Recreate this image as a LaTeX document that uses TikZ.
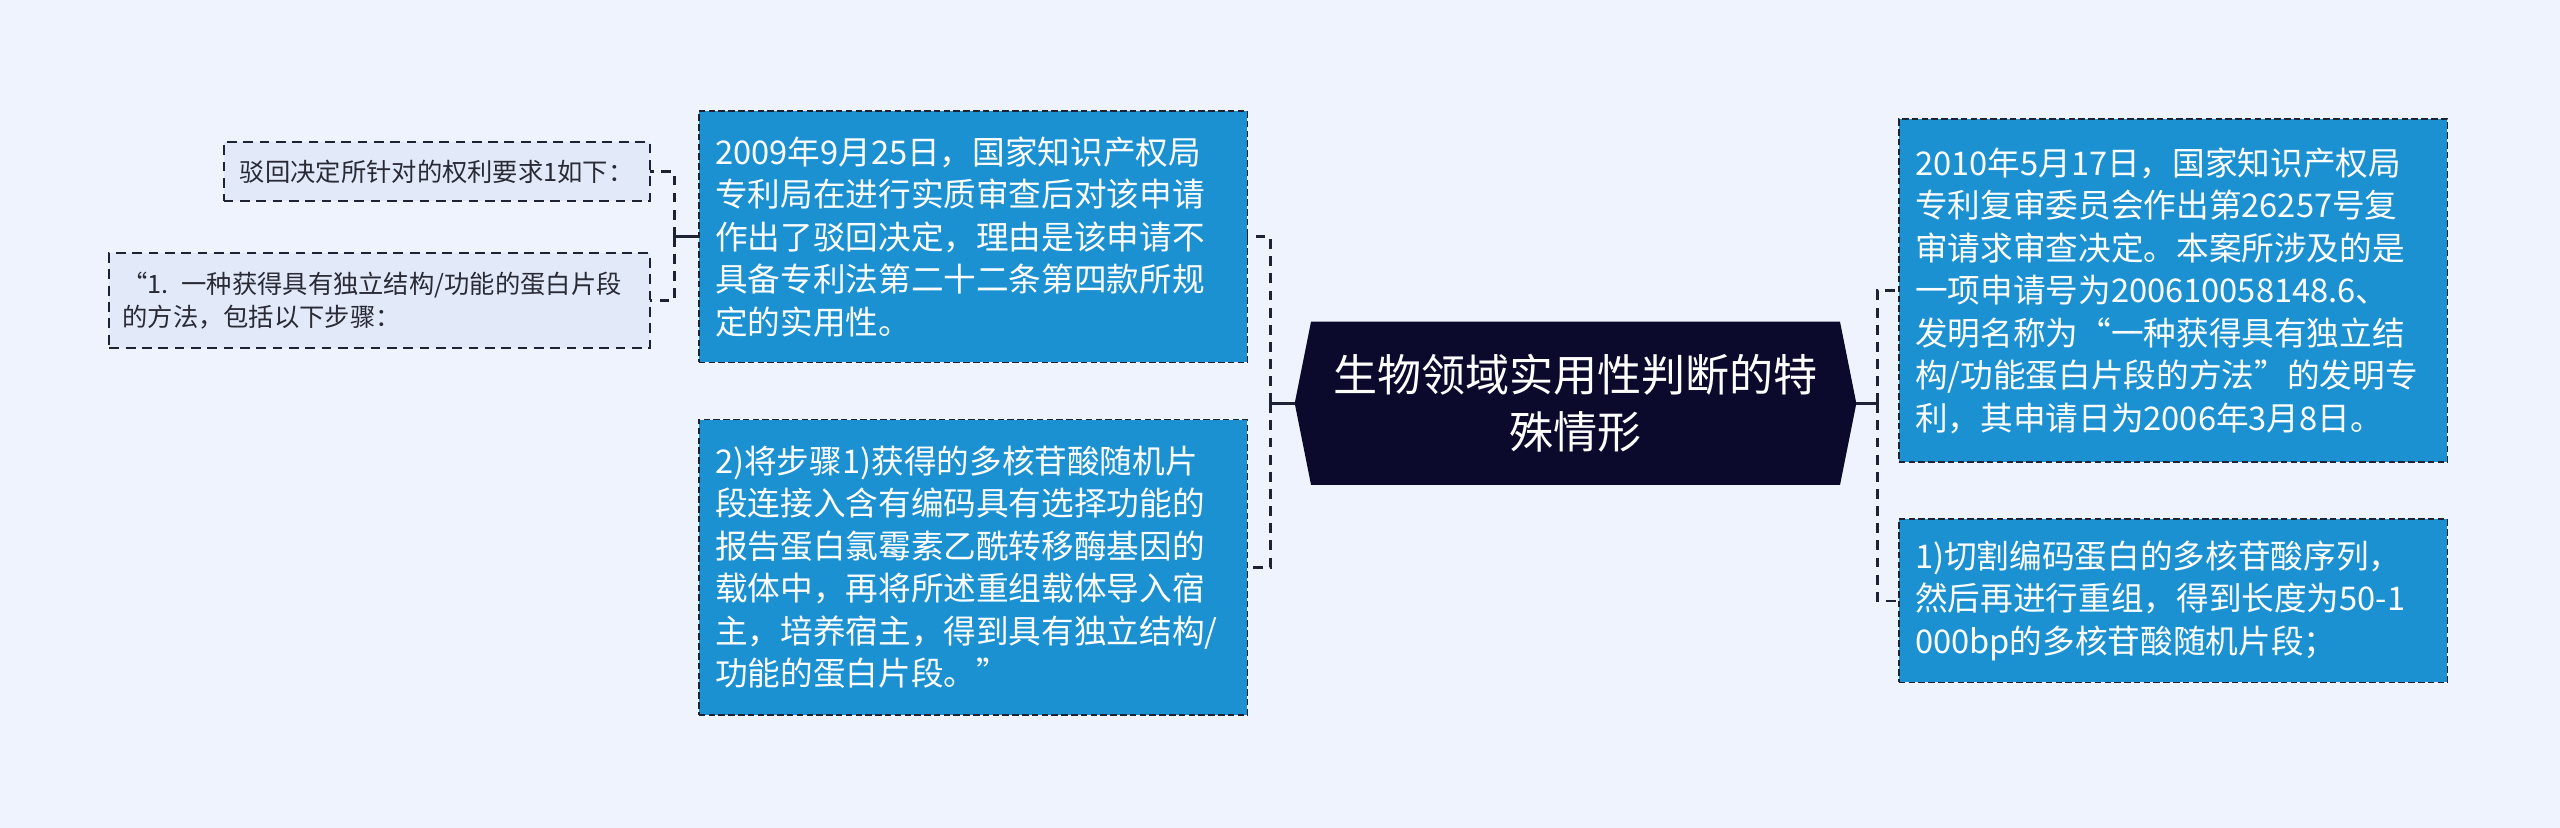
\documentclass[tikz,border=0pt]{standalone}
\usepackage{fontspec}
\newfontfamily\cjk{Noto Sans CJK SC}
\definecolor{bgc}{HTML}{EEF3FE}
\definecolor{boxblue}{HTML}{1C91D2}
\definecolor{navy}{HTML}{0B0A2C}
\definecolor{smallfill}{HTML}{E2EAFA}
\definecolor{bordc}{HTML}{1E2235}
\definecolor{textdark}{HTML}{2A2A35}
\begin{document}
\begin{tikzpicture}[x=1pt,y=-1pt,
  bluebox/.style={draw=bordc, line width=1pt, dash pattern=on 4pt off 2pt, fill=boxblue,
    text=white, font=\cjk\fontsize{20}{26}\selectfont, align=left, text width=316pt,
    inner xsep=10pt, inner ysep=0pt, outer sep=0pt, anchor=north west},
  smallbox/.style={draw=bordc, line width=1.2pt, dash pattern=on 6pt off 4pt, fill=smallfill,
    text=textdark, font=\cjk\fontsize{15.5}{20.5}\selectfont, inner ysep=0pt, outer sep=0pt,
    anchor=north west},
  hexbox/.style={minimum width=344pt, minimum height=100pt, inner sep=0pt, outer sep=0pt},
  centretext/.style={text=white, font=\cjk\fontsize{27}{35}\selectfont, align=center, inner sep=0pt},
  conn/.style={draw=bordc, line width=1.6pt, dash pattern=on 6pt off 4.5pt},
  stub/.style={draw=bordc, line width=1.6pt}
]
\useasboundingbox (0,0) rectangle (1568,507);
\fill[bgc] (0,0) rectangle (1568,507);

% centre
\node[hexbox] (c) at (965,247) {};
\fill[navy] ([xshift=10pt]c.north west) -- ([xshift=-10pt]c.north east) -- (c.east)
  -- ([xshift=-10pt]c.south east) -- ([xshift=10pt]c.south west) -- (c.west) -- cycle;
\node[centretext] (ct) at (c) {生物领域实用性判断的特\\殊情形};

% left blue boxes
\node[bluebox, minimum height=154pt] (b1) at (428,68)
  {2009年9月25日，国家知识产权局\\专利局在进行实质审查后对该申请\\作出了驳回决定，理由是该申请不\\具备专利法第二十二条第四款所规\\定的实用性。};
\node[bluebox, minimum height=181pt] (b2) at (428,257)
  {2)将步骤1)获得的多核苷酸随机片\\段连接入含有编码具有选择功能的\\报告蛋白氯霉素乙酰转移酶基因的\\载体中，再将所述重组载体导入宿\\主，培养宿主，得到具有独立结构/\\功能的蛋白片段。”};

% right blue boxes
\node[bluebox, minimum height=210pt] (r1) at (1163,73)
  {2010年5月17日，国家知识产权局\\专利复审委员会作出第26257号复\\审请求审查决定。本案所涉及的是\\一项申请号为200610058148.6、\\发明名称为“一种获得具有独立结\\构/功能蛋白片段的方法”的发明专\\利，其申请日为2006年3月8日。};
\node[bluebox, minimum height=100pt] (r2) at (1163,318)
  {1)切割编码蛋白的多核苷酸序列，\\然后再进行重组，得到长度为50-1\\000bp的多核苷酸随机片段；};

% small boxes
\node[smallbox, minimum width=261pt, minimum height=36pt, inner xsep=0pt, align=center] (s1) at (137,87)
  {驳回决定所针对的权利要求1如下：};
\node[smallbox, text width=315pt, inner xsep=8pt, minimum height=58pt, align=left] (s2) at (67,155)
  {“1. 一种获得具有独立结构/功能的蛋白片段\\的方法，包括以下步骤：};

% connectors
\draw[stub] (c.west) -- ++(-15,0) coordinate (jl);
\draw[conn] (jl) |- (b1.east);
\draw[conn] (jl) |- (b2.east);
\draw[stub] (c.east) -- ++(13,0) coordinate (jr);
\draw[conn] (jr) |- (r1.west);
\draw[conn] (jr) |- (r2.west);
\draw[stub] (b1.west) -- ++(-15,0) coordinate (js);
\draw[conn] (js) |- (s1.east);
\draw[conn] (js) |- (s2.east);
\end{tikzpicture}
\end{document}
